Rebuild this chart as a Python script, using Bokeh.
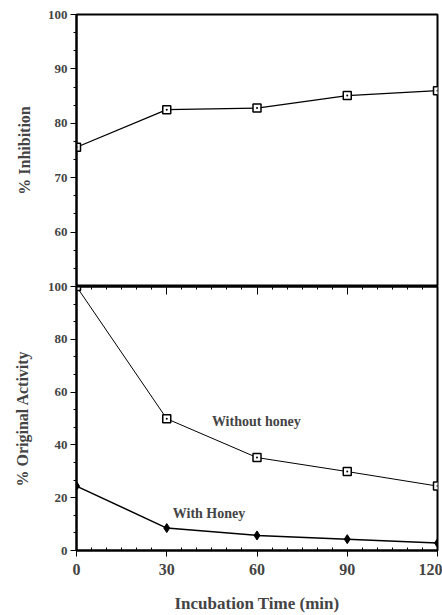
from bokeh.plotting import figure
from bokeh.layouts import column
from bokeh.models import Range1d, FixedTicker, LinearAxis, Label, CustomJSTickFormatter
from bokeh.embed import file_html
from bokeh.resources import INLINE

# data
time_min = [0, 30, 60, 90, 120]
inhibition = [75.6, 82.5, 82.8, 85.1, 86.0]
without_honey = [100, 49.9, 35.2, 29.9, 24.4]
with_honey = [24.4, 8.5, 5.7, 4.3, 2.8]

top_ticks = [60, 70, 80, 90, 100]
bot_ticks = [0, 20, 40, 60, 80, 100]
x_ticks = [0, 30, 60, 90, 120]
x_tick_labels = ["0", "30", "60", "90", "120"]

FONT = "Liberation Serif"
OVER = 8

def minor_between(ticks, n):
    out = []
    for a, b in zip(ticks[:-1], ticks[1:]):
        step = (b - a) / n
        for k in range(1, n):
            out.append(a + k * step)
    return out

x_minor = minor_between([0, 30, 60, 90, 120], 6)

# --- top panel ---
top = figure(width=442, height=286, x_range=Range1d(0, 120), y_range=Range1d(50, 100),
             output_backend="svg", toolbar_location=None,
             min_border_top=14, min_border_bottom=0, min_border_left=76, min_border_right=5)
top.xaxis.visible = False
top.grid.visible = False
top.outline_line_color = "black"
top.outline_line_width = 2
top.background_fill_color = "white"
top.border_fill_color = "white"

ya = top.yaxis[0]
ya.ticker = FixedTicker(ticks=top_ticks, minor_ticks=minor_between([50] + top_ticks, 3))
ya.axis_line_width = 2
ya.major_tick_out = 6
ya.major_tick_in = 0
ya.minor_tick_out = 3
ya.minor_tick_in = 0
ya.major_label_text_font = FONT
ya.major_label_text_font_style = "bold"
ya.major_label_text_font_size = "13px"
ya.major_label_standoff = 3
ya.axis_label = "% Inhibition"
ya.axis_label_text_font = FONT
ya.axis_label_text_font_style = "bold"
ya.axis_label_text_font_size = "16px"
ya.axis_label_standoff = 12

top.line(time_min, inhibition, line_color="black", line_width=1.3)
top.scatter(time_min, inhibition, marker="square", size=8, fill_color="white",
            line_color="black", line_width=1.5)
top.scatter(time_min, inhibition, marker="circle", size=2, fill_color="black", line_color=None)

# --- bottom panel ---
bot = figure(width=442, height=329 + OVER, x_range=Range1d(0, 120), y_range=Range1d(0, 100),
             output_backend="svg", toolbar_location=None,
             min_border_top=OVER, min_border_bottom=65, min_border_left=76, min_border_right=5,
             margin=(-OVER, 0, 0, 0))
bot.grid.visible = False
bot.outline_line_color = "black"
bot.outline_line_width = 2
bot.background_fill_alpha = 0
bot.border_fill_alpha = 0

xa = bot.xaxis[0]
xa.ticker = FixedTicker(ticks=x_ticks, minor_ticks=x_minor)
xa.major_label_overrides = {t: l for t, l in zip(x_ticks, x_tick_labels)}
xa.axis_line_width = 2
xa.major_tick_out = 6
xa.major_tick_in = 0
xa.minor_tick_out = 0
xa.minor_tick_in = 3
xa.major_label_text_font = FONT
xa.major_label_text_font_style = "bold"
xa.major_label_text_font_size = "16px"
xa.major_label_standoff = 7
xa.axis_label = "Incubation Time (min)"
xa.axis_label_text_font = FONT
xa.axis_label_text_font_style = "bold"
xa.axis_label_text_font_size = "17px"
xa.axis_label_standoff = 16

by = bot.yaxis[0]
by.ticker = FixedTicker(ticks=bot_ticks, minor_ticks=minor_between(bot_ticks, 3))
by.axis_line_width = 2
by.major_tick_out = 6
by.major_tick_in = 0
by.minor_tick_out = 3
by.minor_tick_in = 0
by.major_label_text_font = FONT
by.major_label_text_font_style = "bold"
by.major_label_text_font_size = "13px"
by.major_label_standoff = 3
by.axis_label = "% Original Activity"
by.axis_label_text_font = FONT
by.axis_label_text_font_style = "bold"
by.axis_label_text_font_size = "16px"
by.axis_label_standoff = 14

# ticks hanging from the seam line into the lower panel
seam = LinearAxis(ticker=FixedTicker(ticks=x_ticks, minor_ticks=x_minor),
                  formatter=CustomJSTickFormatter(code="return ''"),
                  major_label_standoff=0, axis_line_width=2,
                  major_tick_in=8, major_tick_out=0, minor_tick_in=3, minor_tick_out=0)
bot.add_layout(seam, "above")

bot.line(time_min, without_honey, line_color="black", line_width=1)
bot.scatter(time_min, without_honey, marker="square", size=8, fill_color="white",
            line_color="black", line_width=1.5)
bot.scatter(time_min, without_honey, marker="circle", size=2, fill_color="black", line_color=None)

bot.line(time_min, with_honey, line_color="black", line_width=1.5)
bot.scatter(time_min, with_honey, marker="diamond", size=9, fill_color="black", line_color="black")

bot.add_layout(Label(x=45, y=49, text="Without honey", text_font=FONT, text_font_style="bold",
                     text_font_size="14px", text_baseline="middle", text_align="left"))
bot.add_layout(Label(x=32, y=14, text="With Honey", text_font=FONT, text_font_style="bold",
                     text_font_size="14px", text_baseline="middle", text_align="left"))

p = column(top, bot, spacing=0)
open("out.html", "w").write(file_html(p, INLINE))
